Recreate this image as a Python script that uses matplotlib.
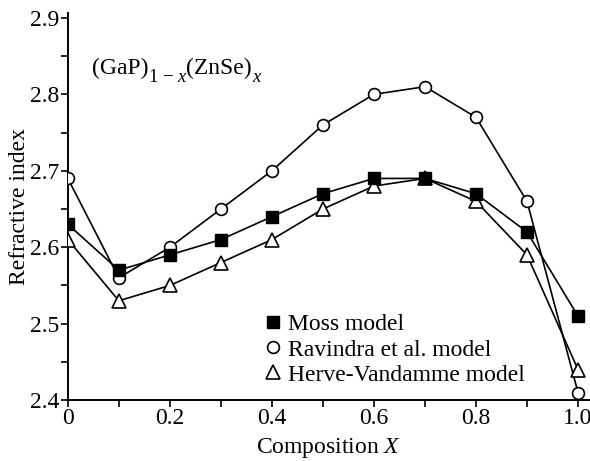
import matplotlib
matplotlib.use("Agg")
import matplotlib.pyplot as plt
from matplotlib.lines import Line2D
from matplotlib.ticker import MultipleLocator

x = [0.0, 0.1, 0.2, 0.3, 0.4, 0.5, 0.6, 0.7, 0.8, 0.9, 1.0]
moss = [2.63, 2.57, 2.59, 2.61, 2.64, 2.67, 2.69, 2.69, 2.67, 2.62, 2.51]
ravindra = [2.69, 2.56, 2.60, 2.65, 2.70, 2.76, 2.80, 2.81, 2.77, 2.66, 2.41]
herve = [2.61, 2.53, 2.55, 2.58, 2.61, 2.65, 2.68, 2.69, 2.66, 2.59, 2.44]
labels = ["Moss model", "Ravindra et al. model", "Herve-Vandamme model"]
xticks = [0, 0.2, 0.4, 0.6, 0.8, 1.0]
xticklabels = ["0", "0.2", "0.4", "0.6", "0.8", "1.0"]
yticks = [2.4, 2.5, 2.6, 2.7, 2.8, 2.9]

plt.rcParams['font.family'] = ['Liberation Serif', 'DejaVu Serif']
plt.rcParams['mathtext.fontset'] = 'custom'
plt.rcParams['mathtext.rm'] = 'Liberation Serif'
plt.rcParams['mathtext.it'] = 'Liberation Serif:italic'

fs = 17
sfs = 13.5
fig = plt.figure(figsize=(5.9, 4.61), dpi=100)
ax = fig.add_axes([0.115, 0.132, 0.885, 0.84])

lw = 1.2
ax.plot(x, ravindra, '-', color='black', lw=lw, marker='o', ms=8.5,
        mfc='white', mec='black', mew=1.2, zorder=3)
ax.plot(x, herve, '-', color='black', lw=lw, marker='^', ms=9.5,
        mfc='white', mec='black', mew=1.2, zorder=3)
ax.plot(x, moss, '-', color='black', lw=lw, marker='s', ms=8.5,
        mfc='black', mec='black', zorder=4)

ax.set_xlim(0, 1.0235)
ax.set_ylim(2.4, 2.9065)
ax.set_xticks(xticks)
ax.set_xticklabels(xticklabels)
ax.set_yticks(yticks)
ax.xaxis.set_minor_locator(MultipleLocator(0.1))
ax.yaxis.set_minor_locator(MultipleLocator(0.05))
ax.tick_params(which='both', direction='out', length=5, width=1.2, labelsize=fs, pad=1)
ax.spines['top'].set_visible(False)
ax.spines['right'].set_visible(False)
ax.spines['left'].set_linewidth(1.4)
ax.spines['bottom'].set_linewidth(1.4)

ax.set_xlabel(r'Composition $\mathit{X}$', fontsize=fs, labelpad=5)
ax.set_ylabel('Refractive index', fontsize=fs, labelpad=0)

# Formula label (GaP)_{1-x}(ZnSe)_x built from pieces
t1 = ax.text(0.047, 2.826, '(GaP)', fontsize=fs, va='baseline')
t2 = ax.annotate('1 \u2212', xy=(1, 0), xycoords=t1, xytext=(0.5, -5),
                 textcoords='offset points', fontsize=sfs, va='bottom')
t2b = ax.annotate('x', xy=(1, 0), xycoords=t2, xytext=(2.5, 0),
                  textcoords='offset points', fontsize=sfs, va='bottom',
                  fontstyle='italic')
t3 = ax.annotate('(ZnSe)', xy=(1, 0), xycoords=(t2b, t1), xytext=(0.5, 0),
                 textcoords='offset points', fontsize=fs, va='bottom')
t4 = ax.annotate('x', xy=(1, 0), xycoords=(t3, t2), xytext=(0.3, 0),
                 textcoords='offset points', fontsize=sfs, va='bottom',
                 fontstyle='italic')

handles = [
    Line2D([], [], ls='none', marker='s', ms=8.5, mfc='black', mec='black'),
    Line2D([], [], ls='none', marker='o', ms=8.5, mfc='white', mec='black', mew=1.2),
    Line2D([], [], ls='none', marker='^', ms=9.5, mfc='white', mec='black', mew=1.2),
]
ax.legend(handles, labels, loc='lower left', bbox_to_anchor=(0.353, 0.007),
          frameon=False, fontsize=fs, handlelength=0.8, handletextpad=0.2,
          labelspacing=0.15, borderpad=0)

fig.savefig('out.png', dpi=100)
